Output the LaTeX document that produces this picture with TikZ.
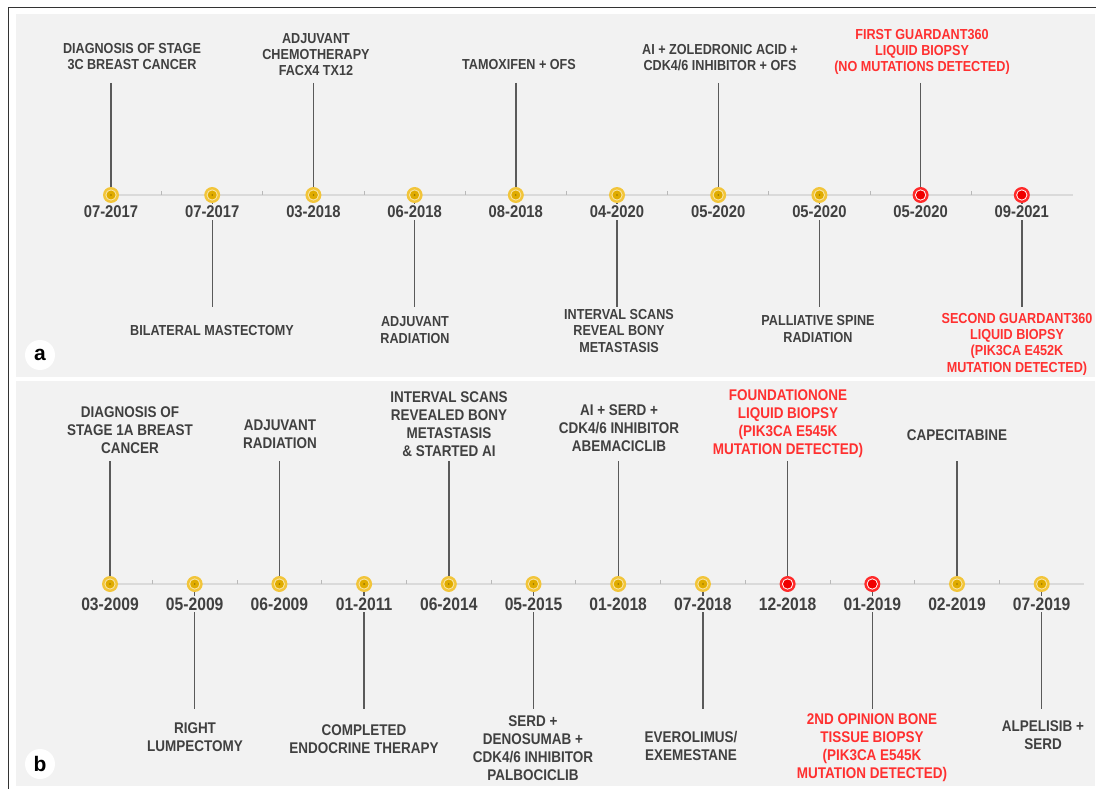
\documentclass[tikz,border=0pt]{standalone}
\usepackage{fontspec}
\newfontfamily\tlfont{Liberation Sans}[FakeStretch=0.87]
\newfontfamily\lbfont{Liberation Sans}
\definecolor{bg}{HTML}{F2F2F2}
\definecolor{txtc}{HTML}{404040}
\definecolor{redc}{HTML}{FF3030}
\definecolor{stemc}{HTML}{5A5A5A}
\definecolor{axisc}{HTML}{DADADA}
\definecolor{ringY}{HTML}{F2C53A}
\definecolor{coreY}{HTML}{E0AC00}
\definecolor{dotY}{HTML}{9A7400}
\definecolor{ringR}{HTML}{FF2A2A}
\definecolor{coreR}{HTML}{F00000}
\definecolor{framec}{HTML}{333333}
\tikzset{
  frameline/.style={line width=1.5pt, draw=framec},
  axisline/.style={line width=2pt, draw=axisc},
  tickmark/.style={line width=0.8pt, draw=axisc!85!black},
  stem/.style={line width=1.4pt, draw=stemc},
  mY/.style={circle, inner sep=0pt, minimum size=16pt, fill=ringY,
    path picture={\fill[white!55!ringY] (path picture bounding box.center) circle (5.6pt);
      \fill[coreY] (path picture bounding box.center) circle (4.5pt);
      \fill[dotY] (path picture bounding box.center) circle (0.9pt);}},
  mR/.style={circle, inner sep=0pt, minimum size=16pt, fill=ringR,
    path picture={\fill[white] (path picture bounding box.center) circle (5.6pt);
      \fill[coreR] (path picture bounding box.center) circle (4.6pt);}},
  txa/.style={align=center, inner sep=0pt, text=txtc, font=\tlfont\bfseries\fontsize{14.5}{16.3}\selectfont},
  txb/.style={align=center, inner sep=0pt, text=txtc, font=\tlfont\bfseries\fontsize{15.5}{18}\selectfont},
  rtx/.style={text=redc},
  datea/.style={inner sep=1.5pt, fill=bg, text=txtc, font=\tlfont\bfseries\fontsize{17}{17}\selectfont},
  dateb/.style={inner sep=1.5pt, fill=bg, text=txtc, font=\tlfont\bfseries\fontsize{18}{18}\selectfont},
  lblc/.style={circle, fill=white, minimum size=30pt, inner sep=0pt, text=black, font=\lbfont\bfseries\fontsize{21}{21}\selectfont}
}
\begin{document}
\begin{tikzpicture}[x=1pt,y=-1pt]
\useasboundingbox (0,0) rectangle (1096,789);
\fill[white] (0,0) rectangle (1096,789);
\fill[bg] (16,14) rectangle (1095,377);
\fill[bg] (16,381) rectangle (1095,786);
\draw[frameline] (8.5,789) -- (8.5,7.5) -- (1096,7.5);

% ---------------- panel a ----------------
\coordinate (aS) at (111,195);
\coordinate (aE) at (1073,195);
\draw[axisline] (aS) -- (aE);
\foreach \i in {0,...,8} \draw[tickmark] ({111+101.2*(\i+0.5)},195) -- ++(0,-4);
\foreach \i in {0,...,7} \node[mY] (ma\i) at ({111+101.2*\i},195) {};
\foreach \i in {8,9} \node[mR] (ma\i) at ({111+101.2*\i},195) {};
% upper stems
\foreach \i in {0,2,4,6,8} {
  \coordinate (ua\i) at ({111+101.2*\i},83);
  \draw[stem] (ua\i) -- (ma\i);
}
% lower stems
\foreach \i in {1,3,5,7,9} {
  \coordinate (la\i) at ({111+101.2*\i},307);
  \draw[stem] (ma\i) -- (la\i);
}
% dates
\foreach \i/\d in {0/07-2017,1/07-2017,2/03-2018,3/06-2018,4/08-2018,5/04-2020,6/05-2020,7/05-2020,8/05-2020,9/09-2021}
  \node[datea] (da\i) at ({111+101.2*\i},212) {\d};
% texts
\node[txa] (ta0) at (132,56.5) {DIAGNOSIS OF STAGE\\3C BREAST CANCER};
\node[txa] (ta2) at (316,54.7) {ADJUVANT\\CHEMOTHERAPY\\FACX4 TX12};
\node[txa] (ta4) at (519,65) {TAMOXIFEN + OFS};
\node[txa] (ta6) at (720,57.5) {AI + ZOLEDRONIC ACID +\\CDK4/6 INHIBITOR + OFS};
\node[txa,rtx] (ta8) at (922,52) {FIRST GUARDANT360\\LIQUID BIOPSY\\(NO MUTATIONS DETECTED)};
\node[txa] (ta1) at (212,331) {BILATERAL MASTECTOMY};
\node[txa] (ta3) at (415,330) {ADJUVANT\\RADIATION};
\node[txa] (ta5) at (619,331) {INTERVAL SCANS\\REVEAL BONY\\METASTASIS};
\node[txa] (ta7) at (818,329) {PALLIATIVE SPINE\\RADIATION};
\node[txa,rtx] (ta9) at (1017,344) {SECOND GUARDANT360\\LIQUID BIOPSY\\(PIK3CA E452K\\MUTATION DETECTED)};
\node[lblc] (lbla) at (40,355) {a};

% ---------------- panel b ----------------
\coordinate (bS) at (110,584);
\coordinate (bE) at (1084,584);
\draw[axisline] (bS) -- (bE);
\foreach \i in {0,...,10} \draw[tickmark] ({110+84.7*(\i+0.5)},584) -- ++(0,-4);
\foreach \i in {0,...,7,10,11} \node[mY] (mb\i) at ({110+84.7*\i},584) {};
\foreach \i in {8,9} \node[mR] (mb\i) at ({110+84.7*\i},584) {};
\foreach \i in {0,2,4,6,8,10} {
  \coordinate (ub\i) at ({110+84.7*\i},461);
  \draw[stem] (ub\i) -- (mb\i);
}
\foreach \i in {1,3,5,7,9,11} {
  \coordinate (lb\i) at ({110+84.7*\i},709);
  \draw[stem] (mb\i) -- (lb\i);
}
\foreach \i/\d in {0/03-2009,1/05-2009,2/06-2009,3/01-2011,4/06-2014,5/05-2015,6/01-2018,7/07-2018,8/12-2018,9/01-2019,10/02-2019,11/07-2019}
  \node[dateb] (db\i) at ({110+84.7*\i},604) {\d};
\node[txb] (tb0) at (130,430) {DIAGNOSIS OF\\STAGE 1A BREAST\\CANCER};
\node[txb] (tb2) at (280,434) {ADJUVANT\\RADIATION};
\node[txb] (tb4) at (449,424) {INTERVAL SCANS\\REVEALED BONY\\METASTASIS\\\& STARTED AI};
\node[txb] (tb6) at (619,428) {AI + SERD +\\CDK4/6 INHIBITOR\\ABEMACICLIB};
\node[txb,rtx] (tb8) at (788,423.5) {FOUNDATIONONE\\LIQUID BIOPSY\\(PIK3CA E545K\\MUTATION DETECTED)};
\node[txb] (tb10) at (957,435) {CAPECITABINE};
\node[txb] (tb1) at (195,737.5) {RIGHT\\LUMPECTOMY};
\node[txb] (tb3) at (364,739.5) {COMPLETED\\ENDOCRINE THERAPY};
\node[txb] (tb5) at (533,748.5) {SERD +\\DENOSUMAB +\\CDK4/6 INHIBITOR\\PALBOCICLIB};
\node[txb] (tb7) at (691,745.5) {EVEROLIMUS/\\EXEMESTANE};
\node[txb,rtx] (tb9) at (872,748) {2ND OPINION BONE\\TISSUE BIOPSY\\(PIK3CA E545K\\MUTATION DETECTED)};
\node[txb] (tb11) at (1043,735) {ALPELISIB +\\SERD};
\node[lblc] (lblb) at (40,764) {b};
\end{tikzpicture}
\end{document}
